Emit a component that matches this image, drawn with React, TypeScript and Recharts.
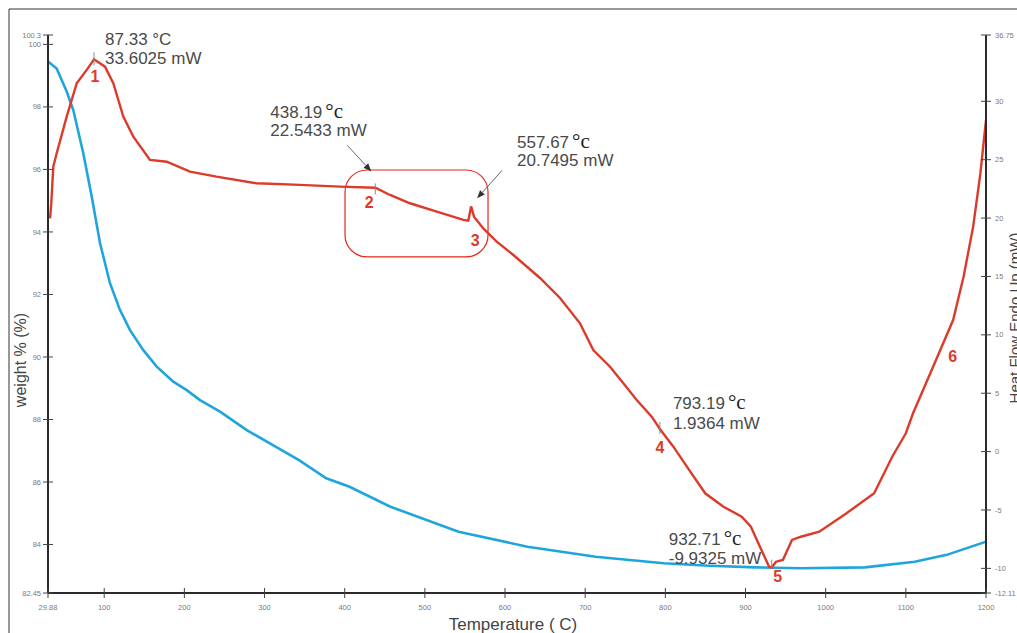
import React from 'react';
import { LineChart, Line, XAxis, YAxis, ReferenceDot, ReferenceArea } from 'recharts';

// ---- Data ----
const weightTemps = [29.88, 40.7, 53.2, 61.4, 73.9, 84.4, 94.8, 107.2, 119.7, 132.2, 148.8, 165.5, 186.2, 202.9, 219.5, 244.5, 277.8, 343, 377, 406, 457, 542, 628, 713, 798, 855, 912, 969, 1049, 1111, 1151, 1200];
const weightValues = [99.45, 99.23, 98.49, 97.9, 96.52, 95.13, 93.64, 92.36, 91.5, 90.86, 90.22, 89.69, 89.21, 88.94, 88.62, 88.25, 87.66, 86.7, 86.12, 85.85, 85.21, 84.41, 83.93, 83.61, 83.4, 83.32, 83.27, 83.24, 83.27, 83.45, 83.67, 84.09];

const heatTemps = [32.5, 34, 36.5, 40.7, 53.2, 65.7, 78.2, 87.33, 101, 111.3, 123.8, 136.3, 157.1, 178, 207, 240, 290, 344, 394, 438.19, 456.5, 481.5, 514.8, 548, 554.2, 557.67, 561.3, 572.9, 589.6, 610.4, 643.6, 668.6, 693.5, 710.1, 731, 747.6, 764.3, 783, 793.19, 810, 832.6, 849.7, 872.5, 895.3, 906.7, 918, 929.4, 932.71, 938, 946.6, 958, 969, 992, 1026, 1060.5, 1083, 1100, 1109, 1134, 1159, 1172, 1184, 1193, 1200];
const heatValues = [19.98, 21.3, 24.4, 25.55, 28.69, 31.55, 32.69, 33.6, 32.97, 31.55, 28.69, 26.97, 24.98, 24.83, 23.98, 23.55, 22.98, 22.84, 22.69, 22.6, 21.98, 21.27, 20.55, 19.84, 19.78, 21.0, 20.12, 19.11, 17.98, 16.84, 14.87, 13.16, 10.99, 8.7, 7.27, 5.85, 4.42, 2.99, 1.94, 0.42, -1.86, -3.57, -4.72, -5.57, -6.43, -8.14, -9.86, -9.93, -9.43, -9.28, -7.57, -7.29, -6.86, -5.28, -3.57, -0.44, 1.57, 3.28, 7.27, 11.27, 14.98, 19.27, 23.84, 28.4];

const xTicks = [29.88, 100, 200, 300, 400, 500, 600, 700, 800, 900, 1000, 1100, 1200];
const leftTicks = [82.45, 84, 86, 88, 90, 92, 94, 96, 98, 100, 100.3];
const rightTicks = [-12.11, -10, -5, 0, 5, 10, 15, 20, 25, 30, 35.68];
const rightTickLabels = ['-12.11', '-10', '-5', '0', '5', '10', '15', '20', '25', '30', '36.75'];

const annotTemps = [87.33, 438.19, 557.67, 793.19, 932.71];
const annotHeat = [33.6025, 22.5433, 20.7495, 1.9364, -9.9325];
const annotTempText = ['87.33', '438.19', '557.67', '793.19', '932.71'];
const annotHeatText = ['33.6025 mW', '22.5433 mW', '20.7495 mW', '1.9364 mW', '-9.9325 mW'];
const annotNumbers = ['1', '2', '3', '4', '5'];
const stageSixLabel = { t: 1158.5, h: 7.68, text: '6' };
const boxRange = { t1: 400.4, t2: 578.8, h1: 16.67, h2: 24.12 };

// ---- Layout of the annotations (pixel offsets relative to the annotated point) ----
const annotLayout = [
  { tx: 11, b1: -14, b2: 5, ndx: 1, nb: 23, tick: [-7, 6], arrow: null, serif: false },
  { tx: -105, b1: -70, b2: -52, ndx: -6, nb: 20, tick: [-5, 6], arrow: [-28, -43, -4, -17], serif: true },
  { tx: 46, b1: -61, b2: -43, ndx: 4, nb: 37, tick: null, arrow: [31, -39, 6, -11], serif: true },
  { tx: 13, b1: -20, b2: 0, ndx: 0, nb: 24, tick: [-7, 5], arrow: null, serif: true },
  { tx: -103, b1: -23, b2: -4, ndx: 6, nb: 14, tick: [-8, 1], arrow: null, serif: true },
];

const weightData = weightTemps.map((t, i) => ({ t, w: weightValues[i] }));
const heatData = heatTemps.map((t, i) => ({ t, h: heatValues[i] }));

const RED = '#dc3a2b';
const BLUE = '#1ea6dc';
const SANS = 'Liberation Sans, Arial, sans-serif';
const SERIF = 'Liberation Serif, Times New Roman, serif';
const TEXT = '#4a4a4a';
const TICK_TEXT = '#7a7a7a';

const LeftTick = (props: any) => {
  const { x, y, payload } = props;
  return (
    <g>
      <line x1={x - 5} x2={x + 5} y1={y} y2={y} stroke="#444" strokeWidth={1} />
      <text x={x - 7} y={y} dy={2.6} textAnchor="end" fontSize={7.5} fill={TICK_TEXT} fontFamily={SANS}>
        {String(payload.value)}
      </text>
    </g>
  );
};

const RightTick = (props: any) => {
  const { x, y, payload, index } = props;
  return (
    <g>
      <line x1={x - 5} x2={x + 5} y1={y} y2={y} stroke="#444" strokeWidth={1} />
      <text x={x + 9} y={y} dy={2.6} textAnchor="start" fontSize={7.5} fill={TICK_TEXT} fontFamily={SANS}>
        {rightTickLabels[index] ?? String(payload.value)}
      </text>
    </g>
  );
};

const BottomTick = (props: any) => {
  const { x, y, payload } = props;
  return (
    <g>
      <line x1={x} x2={x} y1={y - 5} y2={y + 5} stroke="#444" strokeWidth={1} />
      <text x={x} y={y + 16.5} textAnchor="middle" fontSize={7.5} fill={TICK_TEXT} fontFamily={SANS}>
        {String(payload.value)}
      </text>
    </g>
  );
};

const Arrow = ({ x1, y1, x2, y2 }: any) => {
  const ang = Math.atan2(y2 - y1, x2 - x1);
  const len = 8;
  const hw = 3.2;
  const bx = x2 - len * Math.cos(ang);
  const by = y2 - len * Math.sin(ang);
  const px = -Math.sin(ang) * hw;
  const py = Math.cos(ang) * hw;
  return (
    <g>
      <line x1={x1} y1={y1} x2={bx} y2={by} stroke="#666" strokeWidth={1} />
      <polygon points={`${x2},${y2} ${bx + px},${by + py} ${bx - px},${by - py}`} fill="#333" />
    </g>
  );
};

const makeAnnotation = (i: number) => (p: any) => {
  const { cx, cy } = p;
  const L = annotLayout[i];
  return (
    <g>
      {L.tick && (
        <line x1={cx} x2={cx} y1={cy + L.tick[0]} y2={cy + L.tick[1]} stroke="#8a8a8a" strokeWidth={1} />
      )}
      {L.arrow && <Arrow x1={cx + L.arrow[0]} y1={cy + L.arrow[1]} x2={cx + L.arrow[2]} y2={cy + L.arrow[3]} />}
      <text x={cx + L.tx} y={cy + L.b1} fontSize={17} fill={TEXT} fontFamily={SANS}>
        {annotTempText[i]}
        {L.serif ? (
          <tspan dx={3} fontFamily={SERIF} fontSize={21} fill="#222">°c</tspan>
        ) : (
          <tspan> °C</tspan>
        )}
      </text>
      <text x={cx + L.tx} y={cy + L.b2} fontSize={17} fill={TEXT} fontFamily={SANS}>
        {annotHeatText[i]}
      </text>
      <text x={cx + L.ndx} y={cy + L.nb} textAnchor="middle" fontSize={16} fontWeight="bold" fill={RED} fontFamily={SANS}>
        {annotNumbers[i]}
      </text>
    </g>
  );
};

const StageSix = (p: any) => (
  <text x={p.cx} y={p.cy} textAnchor="middle" fontSize={16} fontWeight="bold" fill={RED} fontFamily={SANS}>
    {stageSixLabel.text}
  </text>
);

const RoundBox = (p: any) => (
  <rect x={p.x} y={p.y} width={p.width} height={p.height} rx={22} ry={22} fill="none" stroke="#e8261c" strokeWidth={1.2} />
);

export default function App() {
  return (
    <div style={{ position: 'fixed', left: 0, top: 0, width: 1017, height: 633, background: '#fff', overflow: 'hidden' }}>
      <div style={{ position: 'absolute', left: 0, top: 0 }}>
        <LineChart width={1017} height={633} margin={{ top: 35, right: 0, bottom: 0, left: 0 }}>
          <XAxis
            dataKey="t"
            type="number"
            domain={[29.88, 1200]}
            ticks={xTicks}
            interval={0}
            allowDataOverflow
            height={40}
            tickSize={0}
            tickMargin={0}
            tickLine={false}
            tick={<BottomTick />}
            axisLine={{ stroke: '#2a2a2a', strokeWidth: 2 }}
          />
          <YAxis
            yAxisId="left"
            orientation="left"
            type="number"
            domain={[82.45, 100.3]}
            ticks={leftTicks}
            interval={0}
            allowDataOverflow
            width={48}
            tickSize={0}
            tickMargin={0}
            tickLine={false}
            tick={<LeftTick />}
            axisLine={{ stroke: '#2a2a2a', strokeWidth: 2 }}
          />
          <YAxis
            yAxisId="right"
            orientation="right"
            type="number"
            domain={[-12.11, 35.68]}
            ticks={rightTicks}
            interval={0}
            allowDataOverflow
            width={31}
            tickSize={0}
            tickMargin={0}
            tickLine={false}
            tick={<RightTick />}
            axisLine={{ stroke: '#2a2a2a', strokeWidth: 2 }}
          />
          <ReferenceArea
            yAxisId="right"
            x1={boxRange.t1}
            x2={boxRange.t2}
            y1={boxRange.h1}
            y2={boxRange.h2}
            shape={RoundBox}
            ifOverflow="visible"
          />
          <Line
            data={weightData}
            dataKey="w"
            yAxisId="left"
            type="linear"
            stroke={BLUE}
            strokeWidth={2.6}
            dot={false}
            activeDot={false}
            isAnimationActive={false}
          />
          <Line
            data={heatData}
            dataKey="h"
            yAxisId="right"
            type="linear"
            stroke={RED}
            strokeWidth={2.4}
            dot={false}
            activeDot={false}
            isAnimationActive={false}
          />
          {annotTemps.map((t, i) => (
            <ReferenceDot
              key={i}
              yAxisId="right"
              x={t}
              y={annotHeat[i]}
              r={1}
              ifOverflow="visible"
              shape={makeAnnotation(i)}
            />
          ))}
          <ReferenceDot
            yAxisId="right"
            x={stageSixLabel.t}
            y={stageSixLabel.h}
            r={1}
            ifOverflow="visible"
            shape={StageSix}
          />
        </LineChart>
      </div>
      <svg width={1017} height={633} style={{ position: 'absolute', left: 0, top: 0, pointerEvents: 'none' }}>
        <line x1={9} y1={9} x2={1017} y2={9} stroke="#333" strokeWidth={1} />
        <line x1={9} y1={9} x2={9} y2={633} stroke="#333" strokeWidth={1} />
        <text transform="translate(26,360) rotate(-90)" textAnchor="middle" fontSize={16} fill="#444" fontFamily={SANS}>
          weight % (%)
        </text>
        <text x={513} y={630} textAnchor="middle" fontSize={17} fill="#444" fontFamily={SANS}>
          Temperature ( C)
        </text>
        <text transform="translate(1020,318) rotate(-90)" textAnchor="middle" fontSize={15} fill="#444" fontFamily={SANS}>
          Heat Flow Endo Up (mW)
        </text>
      </svg>
    </div>
  );
}
